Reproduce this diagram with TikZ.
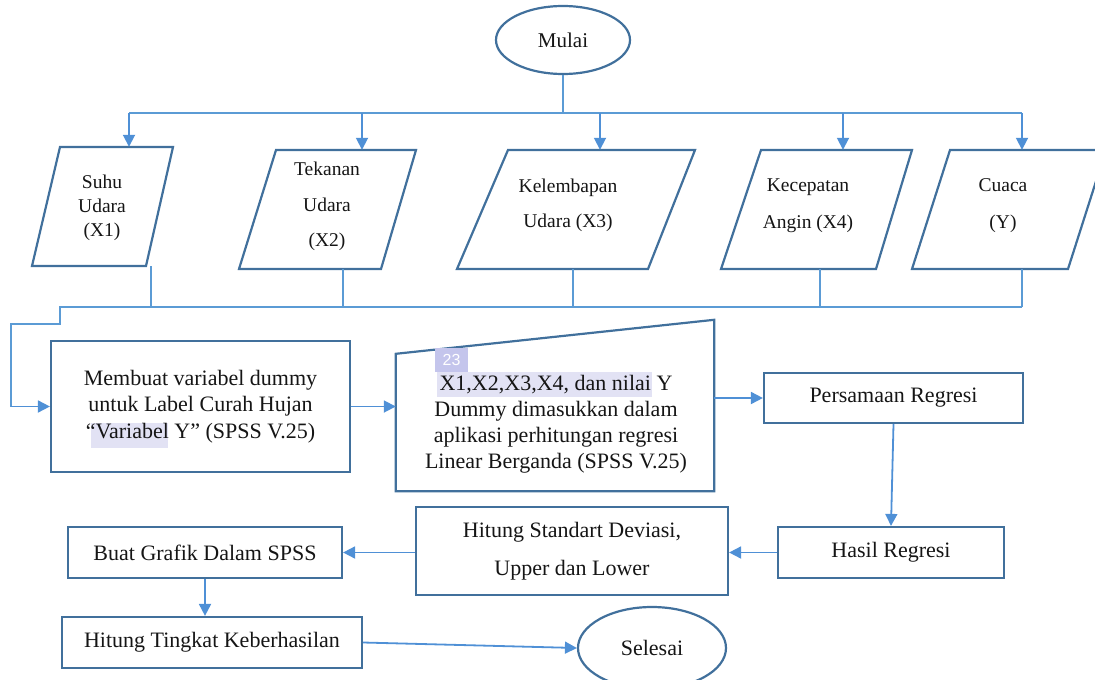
\documentclass[tikz,border=0pt]{standalone}
\usepackage{fontspec}
\setmainfont{Liberation Serif}
\newfontfamily\badgefont{Liberation Sans}
\usetikzlibrary{shapes.geometric,arrows.meta}
\definecolor{boxc}{HTML}{41709C}
\definecolor{linec}{HTML}{5B9BD5}
\definecolor{arrc}{HTML}{4F90D6}
\definecolor{hl}{HTML}{E2E2F4}
\definecolor{badgec}{HTML}{C4C5EC}
\definecolor{txtc}{HTML}{151515}
\begin{document}
\begin{tikzpicture}[x=1pt,y=-1pt,
  frame/.style={draw=boxc,line width=2.2pt},
  boxnode/.style={frame,rectangle,inner sep=0pt,align=center,text=txtc,font=\fontsize{22}{26.5}\selectfont},
  ghost/.style={rectangle,inner sep=0pt},
  conn/.style={draw=linec,line width=1.4pt},
  arr/.style={draw=arrc,line width=1.8pt,-{Triangle[length=12pt,width=12pt]}},
  toptxt/.style={align=center,text=txtc,inner sep=0pt},
  oval/.style={frame,ellipse,inner sep=0pt,text=txtc,font=\fontsize{22}{26}\selectfont}
]
\useasboundingbox (0,0) rectangle (1095,680);

% highlights (behind text)
\fill[hl] (91,423) rectangle (168,448);
\fill[hl] (437,372) rectangle (652,397);

% start
\node[oval,minimum width=134pt,minimum height=68pt,font=\fontsize{21}{21}\selectfont] (mulai) at (563,40) {Mulai};

% bus coordinates
\coordinate (bc) at (564,113);
\coordinate (b1) at (129,113);
\coordinate (b2) at (362,113);
\coordinate (b3) at (600,113);
\coordinate (b4) at (843,113);
\coordinate (b5) at (1022,113);
\coordinate (m1) at (151,307);
\coordinate (m2) at (343,307);
\coordinate (m3) at (573,307);
\coordinate (m4) at (820,307);
\coordinate (m5) at (1022,307);
\coordinate (j1) at (60,307);
\coordinate (j2) at (60,324);
\coordinate (j3) at (11,324);

% input parallelograms
\draw[frame] (60,147) -- (173,147) -- (146,266) -- (32,266) -- cycle;
\node[ghost,minimum width=113pt,minimum height=119pt] (suhu) at (102.5,206.5) {};
\node[toptxt,font=\fontsize{19.5}{24}\selectfont] (suhuT) at (102,208) {Suhu\\Udara\\(X1)};

\draw[frame] (276,150) -- (416,150) -- (381,269) -- (239,269) -- cycle;
\node[ghost,minimum width=140pt,minimum height=119pt] (tekanan) at (327.5,209.5) {};
\node[toptxt,font=\fontsize{19.5}{35.5}\selectfont] (tekananT) at (327,206.5) {Tekanan\\Udara\\(X2)};

\draw[frame] (508,150) -- (695,150) -- (648,269) -- (457,269) -- cycle;
\node[ghost,minimum width=187pt,minimum height=119pt] (lembab) at (576,209.5) {};
\node[toptxt,font=\fontsize{19.5}{35}\selectfont] (lembabT) at (568,205.5) {Kelembapan\\Udara (X3)};

\draw[frame] (761,150) -- (912,150) -- (876,269) -- (721,269) -- cycle;
\node[ghost,minimum width=151pt,minimum height=119pt] (angin) at (816,209.5) {};
\node[toptxt,font=\fontsize{19.5}{37}\selectfont] (anginT) at (808,205.5) {Kecepatan\\Angin (X4)};

\draw[frame] (950,150) -- (1106,150) -- (1068,269) -- (912,269) -- cycle;
\node[ghost,minimum width=156pt,minimum height=119pt] (cuaca) at (1009,209.5) {};
\node[toptxt,font=\fontsize{19.5}{37}\selectfont] (cuacaT) at (1003,205.5) {Cuaca\\(Y)};

% process boxes
\node[boxnode,minimum width=299pt,minimum height=131pt] (membuat) at (200.5,406.5) {Membuat variabel dummy\\untuk Label Curah Hujan\\“Variabel Y” (SPSS V.25)};

\node[ghost,minimum width=318pt,minimum height=171pt] (manual) at (555,405.5) {};
\draw[frame] (manual.south west) -- (manual.south east) -- (manual.north east) -- ([yshift=-34pt]manual.north west) -- cycle;
\node[fill=badgec,text=white,font=\badgefont\fontsize{16}{16}\selectfont,minimum width=33pt,minimum height=24pt,inner sep=0pt] (badge) at (451.5,360) {23};
\node[toptxt,font=\fontsize{22}{26}\selectfont] (manualT) at (556,424) {X1,X2,X3,X4, dan nilai Y\\Dummy dimasukkan dalam\\aplikasi perhitungan regresi\\Linear Berganda (SPSS V.25)};

\node[boxnode,minimum width=259pt,minimum height=50pt] (persamaan) at (893.5,398) {Persamaan Regresi};
\node[boxnode,minimum width=226pt,minimum height=51pt] (hasil) at (891,552.5) {Hasil Regresi};
\node[boxnode,minimum width=312pt,minimum height=88pt,font=\fontsize{22}{38}\selectfont] (sd) at (572,551) {Hitung Standart Deviasi,\\Upper dan Lower};
\node[boxnode,minimum width=274pt,minimum height=51pt] (buat) at (205,552.5) {Buat Grafik Dalam SPSS};
\node[boxnode,minimum width=300pt,minimum height=51pt] (tingkat) at (212,642.5) {Hitung Tingkat Keberhasilan};
\node[oval,minimum width=148pt,minimum height=82pt] (selesai) at (652,648) {Selesai};

% connectors
\draw[conn] (mulai.south) -- (mulai.south |- bc);
\draw[conn] (b1) -- (b5);
\draw[arr] (b1) -- (b1 |- suhu.north);
\draw[arr] (b2) -- (b2 |- tekanan.north);
\draw[arr] (b3) -- (b3 |- lembab.north);
\draw[arr] (b4) -- (b4 |- angin.north);
\draw[arr] (b5) -- (b5 |- cuaca.north);

\draw[conn] (m1 |- suhu.south) -- (m1);
\draw[conn] (m2 |- tekanan.south) -- (m2);
\draw[conn] (m3 |- lembab.south) -- (m3);
\draw[conn] (m4 |- angin.south) -- (m4);
\draw[conn] (m5 |- cuaca.south) -- (m5);
\draw[conn] (m5) -- (j1) -- (j2) -- (j3) -- (j3 |- membuat.west);
\draw[arr] (j3 |- membuat.west) -- (membuat.west);

\draw[arr] (membuat.east) -- (manual.west |- membuat.east);
\draw[arr] (manual.east |- persamaan.west) -- (persamaan.west);
\draw[arr] (persamaan.south) -- (hasil.north);
\draw[arr] (hasil.west) -- (sd.east |- hasil.west);
\draw[arr] (sd.west |- buat.east) -- (buat.east);
\draw[arr] (buat.south) -- (buat.south |- tingkat.north);
\draw[arr] (tingkat.east) -- (selesai.west);
\end{tikzpicture}
\end{document}
